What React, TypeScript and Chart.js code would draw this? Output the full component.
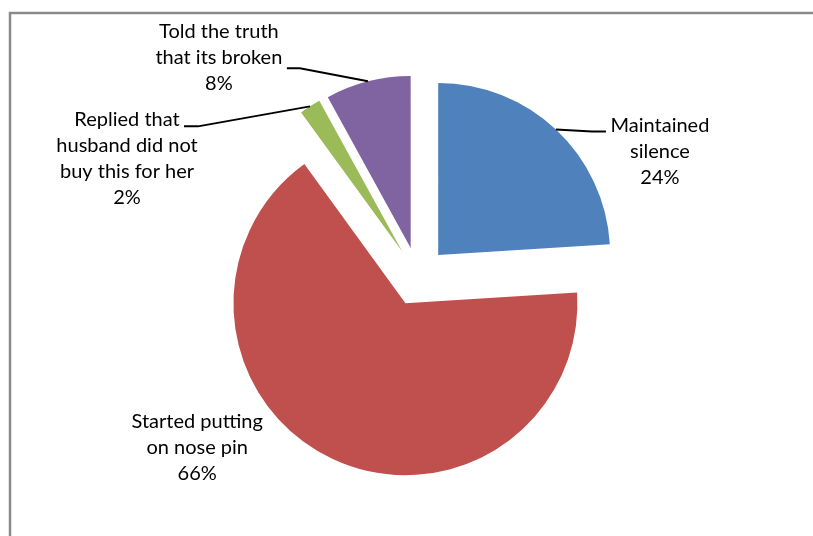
import React, { useEffect, useRef } from 'react';
import { Chart, registerables } from 'chart.js';

Chart.register(...registerables);

// ---- data ----
const categories = [
  'Maintained silence',
  'Started putting on nose pin',
  'Replied that husband did not buy this for her',
  'Told the truth that its broken',
];
const labelLines = [
  ['Maintained', 'silence'],
  ['Started putting', 'on nose pin'],
  ['Replied that', 'husband did not', 'buy this for her'],
  ['Told the truth', 'that its broken'],
];
const values = [24, 66, 2, 8];
const colors = ['#4F81BD', '#C0504D', '#9BBB59', '#8064A2'];

// ---- presentation ----
const EXPLODE = 29.5;
const RADIUS = 172;
const FONT = '20px Lato, "Open Sans", sans-serif';
const LINE_H = 26;
// label centre relative to slice's outer mid point; leader end relative to label centre
const labelLayout = [
  { dx: 104, dy: 22, leader: true, endDx: -54, endDy: -20, elbow: -14 },
  { dx: -135, dy: -11, leader: false, endDx: 0, endDy: 0, elbow: 0 },
  { dx: -183, dy: 52, leader: true, endDx: 57, endDy: -32, elbow: 14 },
  { dx: -149, dy: -24, leader: true, endDx: 68, endDy: 11, elbow: 13 },
];

const explodePlugin = {
  id: 'explodeSlices',
  afterDatasetUpdate(chart: any, args: any) {
    const meta = args.meta ?? chart.getDatasetMeta(args.index);
    meta.data.forEach((arc: any) => {
      const mid = (arc.startAngle + arc.endAngle) / 2;
      arc.x += Math.cos(mid) * EXPLODE;
      arc.y += Math.sin(mid) * EXPLODE;
    });
  },
};

const framePlugin = {
  id: 'frame',
  beforeDraw(chart: any) {
    const ctx = chart.ctx;
    ctx.save();
    ctx.strokeStyle = '#8a8a8a';
    ctx.lineWidth = 2.5;
    ctx.beginPath();
    ctx.moveTo(10, chart.height);
    ctx.lineTo(10, 13);
    ctx.lineTo(chart.width, 13);
    ctx.stroke();
    ctx.restore();
  },
};

const labelPlugin = {
  id: 'sliceLabels',
  afterDatasetsDraw(chart: any) {
    const ctx = chart.ctx;
    const meta = chart.getDatasetMeta(0);
    const data = chart.data.datasets[0].data as number[];
    ctx.save();
    ctx.font = FONT;
    ctx.fillStyle = '#000';
    ctx.textAlign = 'center';
    ctx.textBaseline = 'middle';
    meta.data.forEach((arc: any, i: number) => {
      const mid = (arc.startAngle + arc.endAngle) / 2;
      const ox = arc.x + Math.cos(mid) * arc.outerRadius;
      const oy = arc.y + Math.sin(mid) * arc.outerRadius;
      const L = labelLayout[i];
      const cx = ox + L.dx;
      const cy = oy + L.dy;
      const lines = [...labelLines[i], `${data[i]}%`];
      lines.forEach((t, k) => {
        ctx.fillText(t, cx, cy + (k - (lines.length - 1) / 2) * LINE_H);
      });
      if (L.leader) {
        const ex = cx + L.endDx;
        const ey = cy + L.endDy;
        ctx.strokeStyle = '#000';
        ctx.lineWidth = 2;
        ctx.beginPath();
        ctx.moveTo(ex, ey);
        ctx.lineTo(ex + L.elbow, ey);
        ctx.lineTo(ox, oy);
        ctx.stroke();
      }
    });
    ctx.restore();
  },
};

export default function App() {
  const ref = useRef<HTMLCanvasElement | null>(null);
  useEffect(() => {
    if (!ref.current) return;
    const chart = new Chart(ref.current, {
      type: 'pie',
      data: {
        labels: categories,
        datasets: [
          {
            data: values,
            backgroundColor: colors,
            borderWidth: 0,
            radius: RADIUS,
          } as any,
        ],
      },
      options: {
        responsive: false,
        animation: false,
        events: [],
        layout: { padding: { left: 23, right: 0, top: 17, bottom: 0 } },
        plugins: { legend: { display: false }, tooltip: { enabled: false } },
      },
      plugins: [explodePlugin, framePlugin, labelPlugin],
    });
    return () => chart.destroy();
  }, []);
  return (
    <div style={{ position: 'absolute', left: 0, top: 0, width: 813, height: 536, background: '#fff' }}>
      <canvas ref={ref} width={813} height={536} style={{ display: 'block' }} />
    </div>
  );
}
